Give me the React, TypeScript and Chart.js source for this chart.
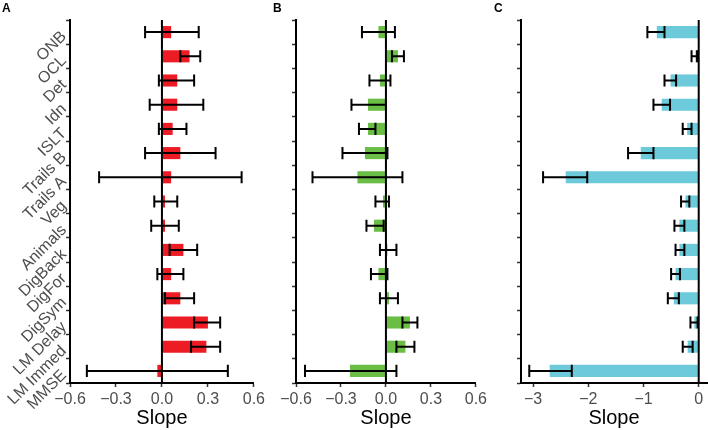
import React, { useEffect, useRef } from 'react';
import { Chart, registerables } from 'chart.js';
Chart.register(...registerables);

const categories = ['ONB', 'OCL', 'Det', 'Idn', 'ISLT', 'Trails B', 'Trails A', 'Veg', 'Animals', 'DigBack', 'DigFor', 'DigSym', 'LM Delay', 'LM Immed', 'MMSE'];

// Panel A
const aMean = [0.06, 0.18, 0.10, 0.10, 0.07, 0.12, 0.06, 0.02, 0.02, 0.14, 0.06, 0.12, 0.30, 0.29, -0.03];
const aLow = [-0.11, 0.12, -0.02, -0.08, -0.02, -0.11, -0.41, -0.05, -0.07, 0.05, -0.03, 0.02, 0.21, 0.19, -0.49];
const aHigh = [0.24, 0.25, 0.21, 0.27, 0.16, 0.35, 0.52, 0.10, 0.11, 0.23, 0.14, 0.21, 0.38, 0.38, 0.43];

// Panel B
const bMean = [-0.05, 0.08, -0.04, -0.12, -0.12, -0.14, -0.19, -0.02, -0.08, 0.01, -0.05, 0.02, 0.16, 0.13, -0.24];
const bLow = [-0.16, 0.04, -0.11, -0.23, -0.18, -0.29, -0.49, -0.07, -0.13, -0.04, -0.10, -0.04, 0.11, 0.07, -0.54];
const bHigh = [0.06, 0.12, 0.03, 0.0, -0.07, 0.01, 0.11, 0.02, -0.015, 0.07, 0.01, 0.08, 0.21, 0.19, 0.07];

// Panel C
const cMean = [-0.76, -0.06, -0.51, -0.67, -0.21, -1.05, -2.41, -0.24, -0.35, -0.35, -0.42, -0.45, -0.08, -0.20, -2.70];
const cLow = [-0.93, -0.13, -0.62, -0.82, -0.29, -1.28, -2.82, -0.32, -0.44, -0.42, -0.50, -0.56, -0.15, -0.29, -3.07];
const cHigh = [-0.62, -0.03, -0.41, -0.52, -0.13, -0.82, -2.02, -0.17, -0.26, -0.26, -0.34, -0.36, -0.02, -0.11, -2.30];

const abTicks = [-0.6, -0.3, 0, 0.3, 0.6];
const cTicks = [-3, -2, -1, 0];

const FONT = "'Liberation Sans', Arial, Helvetica, sans-serif";

const errorBarPlugin = {
  id: 'errbars',
  afterDatasetsDraw(chart: any, _args: any, opts: any) {
    const { ctx, chartArea, scales } = chart;
    const x = scales.x;
    const y = scales.y;
    ctx.save();
    const x0 = x.getPixelForValue(0);
    ctx.strokeStyle = '#000';
    ctx.lineWidth = 2;
    ctx.beginPath();
    ctx.moveTo(x0, chartArea.top);
    ctx.lineTo(x0, chartArea.bottom);
    ctx.stroke();
    const meta = chart.getDatasetMeta(0);
    const low: number[] = opts.low;
    const high: number[] = opts.high;
    low.forEach((lo, i) => {
      const hi = high[i];
      const yc = y.getPixelForValue(i);
      const el: any = meta.data[i];
      const half = (el && el.height ? el.height : 12) / 2;
      const xl = x.getPixelForValue(lo);
      const xh = x.getPixelForValue(hi);
      ctx.beginPath();
      ctx.moveTo(xl, yc);
      ctx.lineTo(xh, yc);
      ctx.moveTo(xl, yc - half);
      ctx.lineTo(xl, yc + half);
      ctx.moveTo(xh, yc - half);
      ctx.lineTo(xh, yc + half);
      ctx.stroke();
    });
    ctx.restore();
  },
};

const fmt = (v: number, dec: number) => {
  const s = Math.abs(v) < 1e-9 ? (0).toFixed(dec) : v.toFixed(dec);
  return s.replace('-', '\u2212');
};

type PanelProps = {
  left: number;
  width: number;
  mean: number[];
  low: number[];
  high: number[];
  color: string;
  min: number;
  max: number;
  ticks: number[];
  dec: number;
  yAxisWidth: number;
  padRight: number;
  showLabels: boolean;
};

function Panel(p: PanelProps) {
  const ref = useRef<HTMLCanvasElement | null>(null);
  useEffect(() => {
    if (!ref.current) return;
    const chart = new Chart(ref.current, {
      type: 'bar',
      data: {
        labels: categories,
        datasets: [
          {
            data: p.mean,
            backgroundColor: p.color,
            borderWidth: 0,
            barPercentage: 0.5,
            categoryPercentage: 1,
          },
        ],
      },
      options: {
        indexAxis: 'y',
        responsive: false,
        animation: false,
        layout: { padding: { left: 0, right: p.padRight, top: 20, bottom: 0 } },
        plugins: {
          legend: { display: false },
          tooltip: { enabled: false },
          errbars: { low: p.low, high: p.high },
        } as any,
        scales: {
          x: {
            type: 'linear',
            min: p.min,
            max: p.max,
            afterBuildTicks: (s: any) => {
              s.ticks = p.ticks.map((v) => ({ value: v }));
            },
            afterFit: (s: any) => {
              s.height = 47;
            },
            ticks: {
              color: '#4d4d4d',
              font: { size: 16, family: FONT },
              padding: 3,
              maxRotation: 0,
              autoSkip: false,
              callback: (v: any) => fmt(Number(v), p.dec),
            },
            grid: {
              drawOnChartArea: false,
              drawTicks: true,
              tickLength: 4,
              tickColor: '#333',
              tickWidth: 1.5,
            },
            border: { display: true, color: '#000', width: 2 },
            title: {
              display: true,
              text: 'Slope',
              color: '#000',
              font: { size: 20, family: FONT },
              padding: { top: 0, bottom: 0 },
            },
          },
          y: {
            type: 'category',
            position: 'left',
            offset: true,
            afterFit: (s: any) => {
              s.width = p.yAxisWidth;
            },
            ticks: {
              display: p.showLabels,
              minRotation: 45,
              maxRotation: 45,
              autoSkip: false,
              color: '#4d4d4d',
              font: { size: 16, family: FONT },
              padding: 2,
              labelOffset: 2,
            },
            grid: {
              drawOnChartArea: false,
              drawTicks: true,
              tickLength: 4,
              tickColor: '#333',
              tickWidth: 1.5,
            },
            border: { display: true, color: '#000', width: 2 },
          },
        },
      } as any,
      plugins: [errorBarPlugin as any],
    });
    return () => chart.destroy();
  }, []);
  return (
    <canvas
      ref={ref}
      width={p.width}
      height={430}
      style={{ position: 'absolute', left: p.left, top: 0, width: p.width, height: 430, display: 'block' }}
    />
  );
}

const letterStyle = (left: number): React.CSSProperties => ({
  position: 'absolute',
  left,
  top: 1,
  fontFamily: FONT,
  fontWeight: 'bold',
  fontSize: 12,
  color: '#000',
  lineHeight: '14px',
});

export default function App() {
  return (
    <div style={{ position: 'fixed', left: 0, top: 0, width: 708, height: 430, background: '#fff', overflow: 'hidden' }}>
      <Panel left={0} width={268} mean={aMean} low={aLow} high={aHigh} color="#ED1C24" min={-0.6} max={0.6} ticks={abTicks} dec={1} yAxisWidth={70} padRight={13} showLabels={true} />
      <Panel left={268} width={222} mean={bMean} low={bLow} high={bHigh} color="#6ABD45" min={-0.6} max={0.6} ticks={abTicks} dec={1} yAxisWidth={28} padRight={10} showLabels={false} />
      <Panel left={490} width={218} mean={cMean} low={cLow} high={cHigh} color="#6CCADB" min={-3.22} max={0.15} ticks={cTicks} dec={0} yAxisWidth={31} padRight={1} showLabels={false} />
      <div style={letterStyle(2)}>A</div>
      <div style={letterStyle(273)}>B</div>
      <div style={letterStyle(494)}>C</div>
    </div>
  );
}
